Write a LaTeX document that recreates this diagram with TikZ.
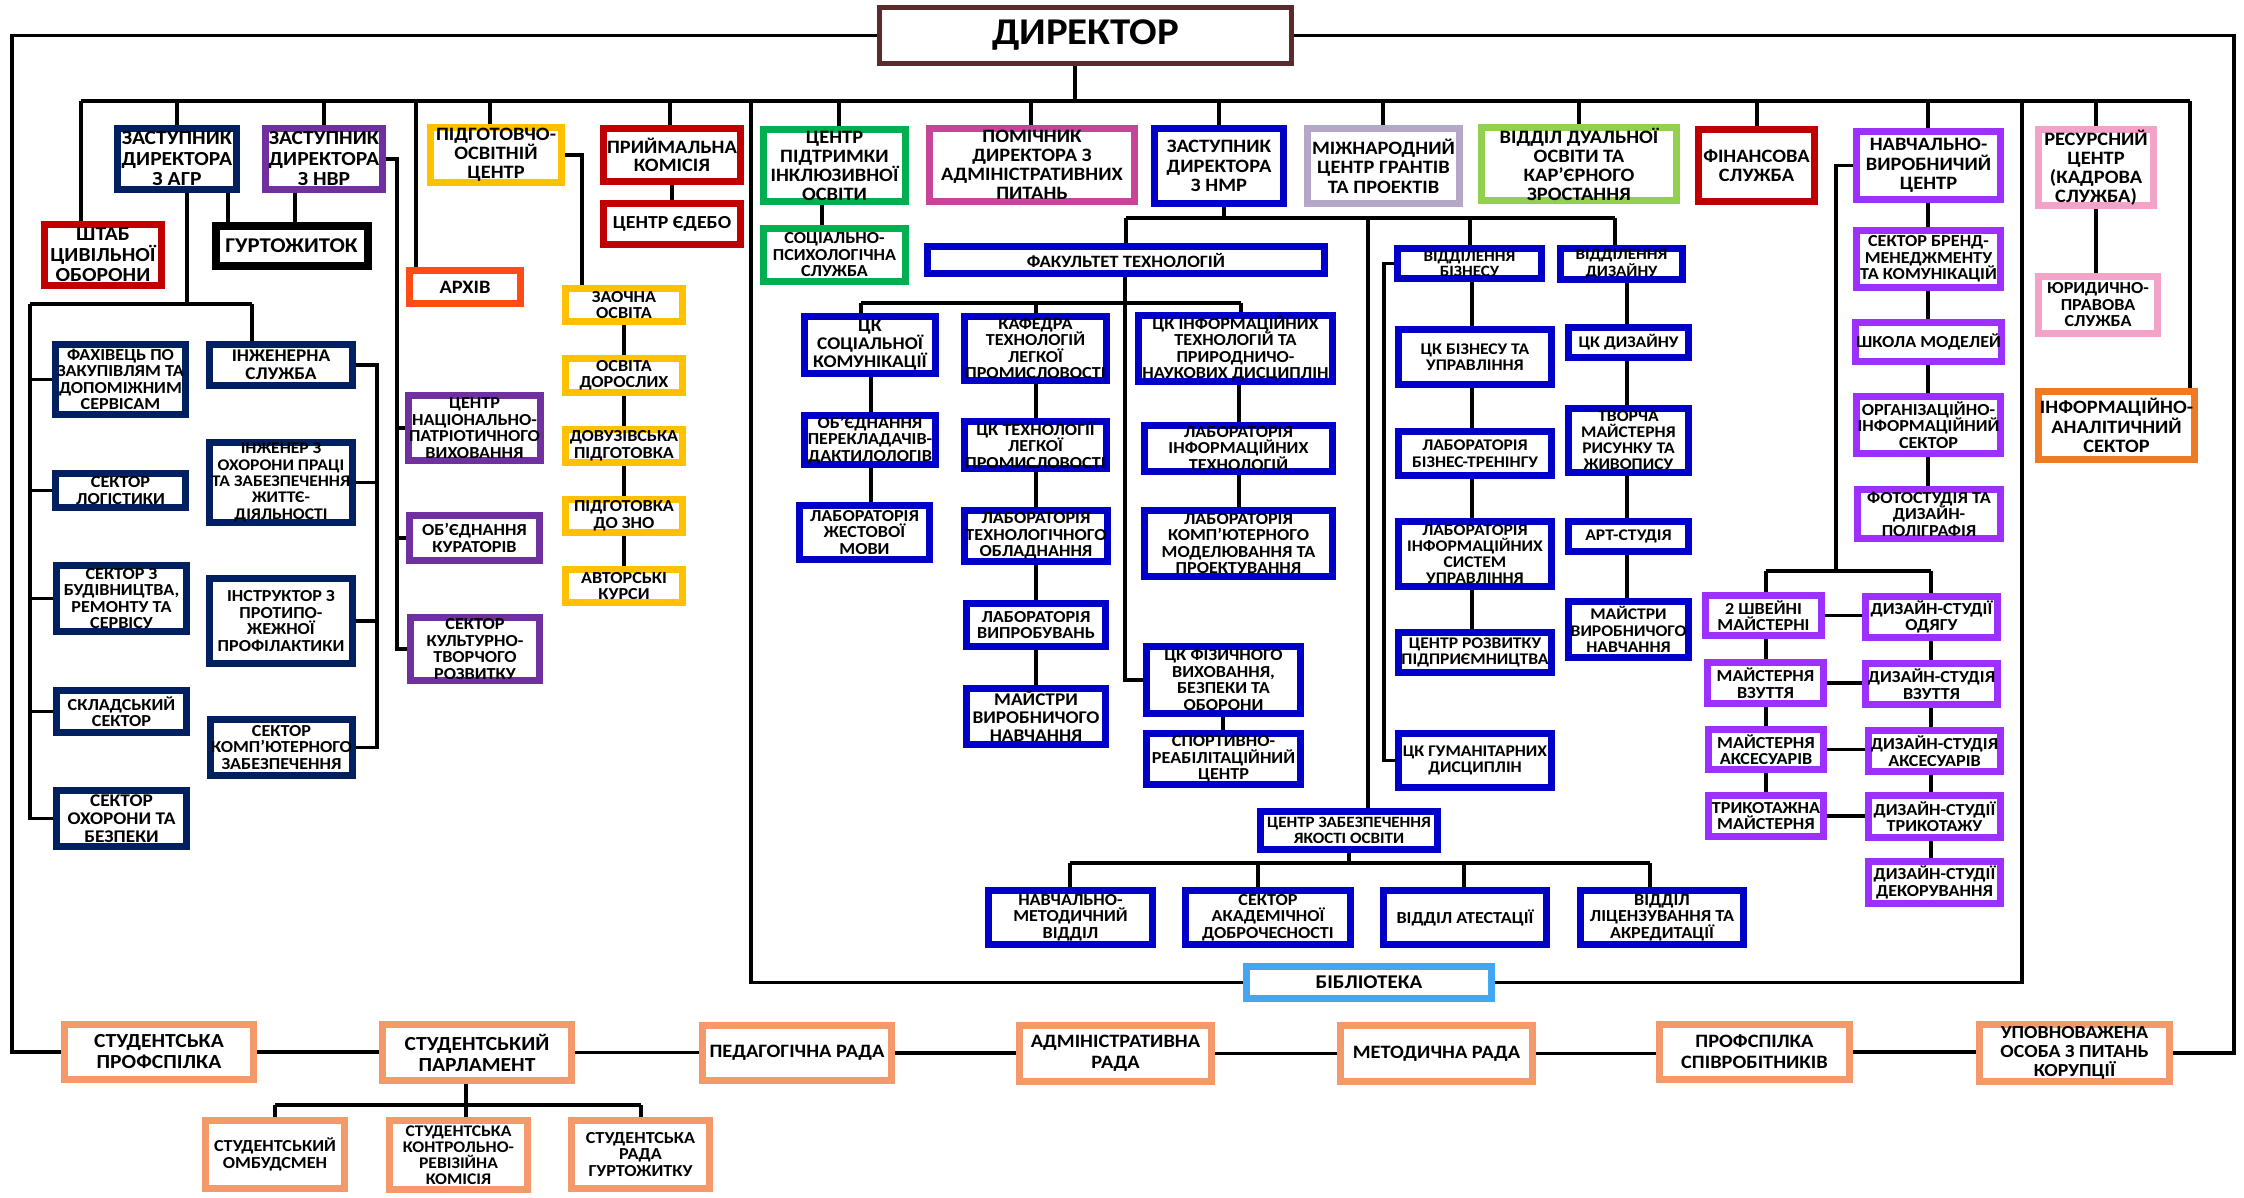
\documentclass[tikz,border=0pt]{standalone}
\usepackage{fontspec}
\setmainfont{Carlito}[FakeStretch=1.08]
\usetikzlibrary{calc}
\pgfdeclarelayer{bg}
\pgfsetlayers{bg,main}
\definecolor{cnavy}{HTML}{002060}
\definecolor{cpurp}{HTML}{7030A0}
\definecolor{cred}{HTML}{C00000}
\definecolor{cgold}{HTML}{FFC000}
\definecolor{carch}{HTML}{FF4B14}
\definecolor{cgreen}{HTML}{00B050}
\definecolor{cmag}{HTML}{C8449A}
\definecolor{cblue}{HTML}{0000C8}
\definecolor{clav}{HTML}{B4A7C8}
\definecolor{clgreen}{HTML}{92D050}
\definecolor{cviol}{HTML}{9B30FF}
\definecolor{cpink}{HTML}{F4A3C8}
\definecolor{corange}{HTML}{F07A24}
\definecolor{clblue}{HTML}{43A6F0}
\definecolor{csalmon}{HTML}{F49A6A}
\definecolor{cbrown}{HTML}{5B2A2A}
\newcommand{\obox}[8]{\node[box,draw=#6,#7,minimum width={#4-#2-7},minimum height={#5-#3-7}] (#1) at ({(#2+#4)/2},{(#3+#5)/2}) {#8};}
\begin{document}
\begin{tikzpicture}[x=1pt,y=-1pt,
  fz/.style 2 args={font=\bfseries\fontsize{\fpeval{#1*1.05}}{#2}\selectfont},
  box/.style={draw,line width=7pt,fill=white,align=center,inner sep=0.5pt,fz={16}{16.5}},
  conn/.style={line width=3.5pt}]
\useasboundingbox (0,0) rectangle (2244,1197);
% ---------- top level ----------
\obox{dir}{876}{4}{1295}{67}{cbrown}{line width=5pt,fz={36}{38}}{ДИРЕКТОР}
\obox{agr}{114}{125}{240}{193}{cnavy}{fz={19}{20.5}}{ЗАСТУПНИК\\ДИРЕКТОРА\\З АГР}
\obox{nvr}{262}{125}{386}{193}{cpurp}{fz={19}{20.5}}{ЗАСТУПНИК\\ДИРЕКТОРА\\З НВР}
\obox{shtab}{41}{221}{165}{289}{cred}{fz={19}{20.5}}{ШТАБ\\ЦИВІЛЬНОЇ\\ОБОРОНИ}
\obox{gurt}{212}{222}{371}{269}{black}{line width=8pt,fz={20}{21}}{ГУРТОЖИТОК}
\obox{pidg}{427}{125}{565}{185}{cgold}{fz={18}{19}}{ПІДГОТОВЧО-\\ОСВІТНІЙ\\ЦЕНТР}
\obox{pryim}{600}{125}{744}{185}{cred}{fz={18}{18.5}}{ПРИЙМАЛЬНА\\КОМІСІЯ}
\obox{edebo}{600}{200}{744}{248}{cred}{fz={17.5}{18}}{ЦЕНТР ЄДЕБО}
\obox{arkhiv}{406}{267}{524}{307}{carch}{fz={18}{18}}{АРХІВ}
% AGR children
\obox{fakh}{52}{341}{189}{418}{cnavy}{}{ФАХІВЕЦЬ ПО\\ЗАКУПІВЛЯМ ТА\\ДОПОМІЖНИМ\\СЕРВІСАМ}
\obox{logist}{52}{470}{189}{511}{cnavy}{}{СЕКТОР\\ЛОГІСТИКИ}
\obox{budiv}{53}{562}{190}{635}{cnavy}{}{СЕКТОР З\\БУДІВНИЦТВА,\\РЕМОНТУ ТА\\СЕРВІСУ}
\obox{sklad}{53}{687}{190}{736}{cnavy}{}{СКЛАДСЬКИЙ\\СЕКТОР}
\obox{okhor}{53}{787}{190}{850}{cnavy}{fz={17}{18}}{СЕКТОР\\ОХОРОНИ ТА\\БЕЗПЕКИ}
\obox{inzh}{206}{341}{356}{389}{cnavy}{fz={17}{18}}{ІНЖЕНЕРНА\\СЛУЖБА}
\obox{inzhop}{206}{439}{356}{526}{cnavy}{fz={15.5}{16.3}}{ІНЖЕНЕР З\\ОХОРОНИ ПРАЦІ\\ТА ЗАБЕЗПЕЧЕННЯ\\ЖИТТЄ-\\ДІЯЛЬНОСТІ}
\obox{instr}{206}{575}{356}{667}{cnavy}{}{ІНСТРУКТОР З\\ПРОТИПО-\\ЖЕЖНОЇ\\ПРОФІЛАКТИКИ}
\obox{komp}{207}{716}{356}{779}{cnavy}{}{СЕКТОР\\КОМП’ЮТЕРНОГО\\ЗАБЕЗПЕЧЕННЯ}
% NVR children
\obox{natspatr}{406}{392}{543}{464}{cpurp}{}{ЦЕНТР\\НАЦІОНАЛЬНО-\\ПАТРІОТИЧНОГО\\ВИХОВАННЯ}
\obox{kurat}{406}{512}{543}{564}{cpurp}{}{ОБ’ЄДНАННЯ\\КУРАТОРІВ}
\obox{kult}{407}{614}{543}{684}{cpurp}{}{СЕКТОР\\КУЛЬТУРНО-\\ТВОРЧОГО\\РОЗВИТКУ}
% gold column
\obox{zaoch}{562}{285}{686}{325}{cgold}{}{ЗАОЧНА\\ОСВІТА}
\obox{dorosl}{562}{355}{686}{396}{cgold}{}{ОСВІТА\\ДОРОСЛИХ}
\obox{dovuz}{562}{426}{686}{466}{cgold}{}{ДОВУЗІВСЬКА\\ПІДГОТОВКА}
\obox{zno}{562}{496}{686}{536}{cgold}{}{ПІДГОТОВКА\\ДО ЗНО}
\obox{avtor}{562}{566}{686}{606}{cgold}{}{АВТОРСЬКІ\\КУРСИ}
% middle top row
\obox{inkl}{760}{126}{909}{205}{cgreen}{fz={18}{19}}{ЦЕНТР\\ПІДТРИМКИ\\ІНКЛЮЗИВНОЇ\\ОСВІТИ}
\obox{sotsps}{760}{225}{909}{285}{cgreen}{}{СОЦІАЛЬНО-\\ПСИХОЛОГІЧНА\\СЛУЖБА}
\obox{pomich}{926}{125}{1138}{205}{cmag}{fz={18}{19}}{ПОМІЧНИК\\ДИРЕКТОРА З\\АДМІНІСТРАТИВНИХ\\ПИТАНЬ}
\obox{nmr}{1151}{125}{1287}{207}{cblue}{fz={18}{19.5}}{ЗАСТУПНИК\\ДИРЕКТОРА\\З НМР}
\obox{mizhn}{1304}{125}{1463}{207}{clav}{fz={18}{19.5}}{МІЖНАРОДНИЙ\\ЦЕНТР ГРАНТІВ\\ТА ПРОЕКТІВ}
\obox{dual}{1478}{124}{1680}{204}{clgreen}{fz={18}{19}}{ВІДДІЛ ДУАЛЬНОЇ\\ОСВІТИ ТА\\КАР’ЄРНОГО\\ЗРОСТАННЯ}
\obox{fin}{1695}{126}{1818}{205}{cred}{fz={18}{19.5}}{ФІНАНСОВА\\СЛУЖБА}
\obox{nvc}{1853}{128}{2004}{203}{cviol}{fz={18}{19.5}}{НАВЧАЛЬНО-\\ВИРОБНИЧИЙ\\ЦЕНТР}
\obox{resurs}{2035}{127}{2157}{208}{cpink}{fz={18}{19}}{РЕСУРСНИЙ\\ЦЕНТР\\(КАДРОВА\\СЛУЖБА)}
\obox{yuryd}{2035}{273}{2161}{337}{cpink}{}{ЮРИДИЧНО-\\ПРАВОВА\\СЛУЖБА}
\obox{infanal}{2035}{388}{2198}{463}{corange}{fz={18}{19.5}}{ІНФОРМАЦІЙНО-\\АНАЛІТИЧНИЙ\\СЕКТОР}
% faculty
\obox{fakultet}{924}{243}{1328}{277}{cblue}{fz={16.5}{17}}{ФАКУЛЬТЕТ ТЕХНОЛОГІЙ}
\obox{cksots}{801}{313}{939}{377}{cblue}{fz={17}{18}}{ЦК\\СОЦІАЛЬНОЇ\\КОМУНІКАЦІЇ}
\obox{kafedra}{962}{313}{1109}{384}{cblue}{}{КАФЕДРА\\ТЕХНОЛОГІЙ\\ЛЕГКОЇ\\ПРОМИСЛОВОСТІ}
\obox{ckinf}{1135}{313}{1336}{384}{cblue}{}{ЦК ІНФОРМАЦІЙНИХ\\ТЕХНОЛОГІЙ ТА\\ПРИРОДНИЧО-\\НАУКОВИХ ДИСЦИПЛІН}
\obox{perekl}{801}{413}{939}{467}{cblue}{}{ОБ’ЄДНАННЯ\\ПЕРЕКЛАДАЧІВ-\\ДАКТИЛОЛОГІВ}
\obox{cktlp}{962}{418}{1109}{472}{cblue}{}{ЦК ТЕХНОЛОГІЇ\\ЛЕГКОЇ\\ПРОМИСЛОВОСТІ}
\obox{labinf}{1141}{422}{1336}{475}{cblue}{}{ЛАБОРАТОРІЯ\\ІНФОРМАЦІЙНИХ\\ТЕХНОЛОГІЙ}
\obox{labzhest}{796}{502}{933}{563}{cblue}{}{ЛАБОРАТОРІЯ\\ЖЕСТОВОЇ\\МОВИ}
\obox{labtekh}{963}{507}{1109}{565}{cblue}{}{ЛАБОРАТОРІЯ\\ТЕХНОЛОГІЧНОГО\\ОБЛАДНАННЯ}
\obox{labkomp}{1141}{507}{1336}{580}{cblue}{}{ЛАБОРАТОРІЯ\\КОМП’ЮТЕРНОГО\\МОДЕЛЮВАННЯ ТА\\ПРОЕКТУВАННЯ}
\obox{labvypr}{963}{600}{1109}{650}{cblue}{}{ЛАБОРАТОРІЯ\\ВИПРОБУВАНЬ}
\obox{maystry1}{963}{685}{1109}{748}{cblue}{fz={17}{18}}{МАЙСТРИ\\ВИРОБНИЧОГО\\НАВЧАННЯ}
\obox{ckfiz}{1143}{643}{1304}{717}{cblue}{}{ЦК ФІЗИЧНОГО\\ВИХОВАННЯ,\\БЕЗПЕКИ ТА\\ОБОРОНИ}
\obox{sport}{1143}{730}{1304}{788}{cblue}{}{СПОРТИВНО-\\РЕАБІЛІТАЦІЙНИЙ\\ЦЕНТР}
% quality
\obox{yakist}{1257}{808}{1441}{853}{cblue}{fz={15}{16}}{ЦЕНТР ЗАБЕЗПЕЧЕННЯ\\ЯКОСТІ ОСВІТИ}
\obox{nmv}{985}{887}{1156}{948}{cblue}{}{НАВЧАЛЬНО-\\МЕТОДИЧНИЙ\\ВІДДІЛ}
\obox{akad}{1182}{887}{1354}{948}{cblue}{}{СЕКТОР\\АКАДЕМІЧНОЇ\\ДОБРОЧЕСНОСТІ}
\obox{atest}{1380}{887}{1550}{948}{cblue}{}{ВІДДІЛ АТЕСТАЦІЇ}
\obox{lits}{1577}{887}{1747}{948}{cblue}{}{ВІДДІЛ\\ЛІЦЕНЗУВАННЯ ТА\\АКРЕДИТАЦІЇ}
\obox{bibl}{1243}{963}{1495}{1002}{clblue}{fz={18.5}{19}}{БІБЛІОТЕКА}
% business / design
\obox{vidbiz}{1394}{245}{1545}{282}{cblue}{fz={15}{15}}{ВІДДІЛЕННЯ\\БІЗНЕСУ}
\obox{viddyz}{1557}{245}{1686}{283}{cblue}{fz={15}{15}}{ВІДДІЛЕННЯ\\ДИЗАЙНУ}
\obox{ckbiz}{1395}{326}{1555}{388}{cblue}{fz={15.5}{16.5}}{ЦК БІЗНЕСУ ТА\\УПРАВЛІННЯ}
\obox{labbiz}{1395}{428}{1555}{479}{cblue}{fz={15.5}{16.5}}{ЛАБОРАТОРІЯ\\БІЗНЕС-ТРЕНІНГУ}
\obox{labis}{1395}{518}{1555}{590}{cblue}{fz={15.5}{16}}{ЛАБОРАТОРІЯ\\ІНФОРМАЦІЙНИХ\\СИСТЕМ\\УПРАВЛІННЯ}
\obox{rozv}{1395}{629}{1555}{676}{cblue}{fz={15.5}{16.5}}{ЦЕНТР РОЗВИТКУ\\ПІДПРИЄМНИЦТВА}
\obox{ckhum}{1395}{730}{1555}{791}{cblue}{fz={15.5}{16.5}}{ЦК ГУМАНІТАРНИХ\\ДИСЦИПЛІН}
\obox{ckdyz}{1565}{324}{1692}{361}{cblue}{fz={15.5}{16.5}}{ЦК ДИЗАЙНУ}
\obox{tvorcha}{1565}{405}{1692}{476}{cblue}{fz={15.5}{16}}{ТВОРЧА\\МАЙСТЕРНЯ\\РИСУНКУ ТА\\ЖИВОПИСУ}
\obox{art}{1565}{518}{1692}{555}{cblue}{fz={15.5}{16.5}}{АРТ-СТУДІЯ}
\obox{maystry2}{1565}{598}{1692}{661}{cblue}{fz={15.5}{16.5}}{МАЙСТРИ\\ВИРОБНИЧОГО\\НАВЧАННЯ}
% NVC
\obox{brand}{1853}{227}{2004}{291}{cviol}{}{СЕКТОР БРЕНД-\\МЕНЕДЖМЕНТУ\\ТА КОМУНІКАЦІЙ}
\obox{shkola}{1853}{319}{2004}{365}{cviol}{}{ШКОЛА МОДЕЛЕЙ}
\obox{orginf}{1853}{393}{2004}{457}{cviol}{}{ОРГАНІЗАЦІЙНО-\\ІНФОРМАЦІЙНИЙ\\СЕКТОР}
\obox{foto}{1854}{486}{2004}{542}{cviol}{}{ФОТОСТУДІЯ ТА\\ДИЗАЙН-\\ПОЛІГРАФІЯ}
\obox{shvein}{1702}{592}{1825}{639}{cviol}{}{2 ШВЕЙНІ\\МАЙСТЕРНІ}
\obox{dsodyag}{1862}{593}{2001}{641}{cviol}{}{ДИЗАЙН-СТУДІЇ\\ОДЯГУ}
\obox{mvzut}{1704}{659}{1827}{707}{cviol}{}{МАЙСТЕРНЯ\\ВЗУТТЯ}
\obox{dsvzut}{1862}{660}{2001}{708}{cviol}{}{ДИЗАЙН-СТУДІЯ\\ВЗУТТЯ}
\obox{maks}{1705}{726}{1827}{773}{cviol}{}{МАЙСТЕРНЯ\\АКСЕСУАРІВ}
\obox{dsaks}{1865}{727}{2004}{775}{cviol}{}{ДИЗАЙН-СТУДІЯ\\АКСЕСУАРІВ}
\obox{tryk}{1705}{792}{1827}{840}{cviol}{}{ТРИКОТАЖНА\\МАЙСТЕРНЯ}
\obox{dstryk}{1865}{792}{2004}{841}{cviol}{}{ДИЗАЙН-СТУДІЇ\\ТРИКОТАЖУ}
\obox{dsdek}{1865}{858}{2004}{907}{cviol}{}{ДИЗАЙН-СТУДІЇ\\ДЕКОРУВАННЯ}
% bottom row
\obox{stprof}{61}{1021}{257}{1083}{csalmon}{fz={19}{21}}{СТУДЕНТСЬКА\\ПРОФСПІЛКА}
\obox{stparl}{379}{1021}{575}{1084}{csalmon}{fz={19}{21}}{СТУДЕНТСЬКИЙ\\ПАРЛАМЕНТ}
\obox{pedrada}{699}{1022}{895}{1084}{csalmon}{fz={18}{20}}{ПЕДАГОГІЧНА РАДА}
\obox{adminrada}{1016}{1022}{1215}{1085}{csalmon}{fz={18}{21}}{АДМІНІСТРАТИВНА\\РАДА}
\obox{metrada}{1337}{1022}{1536}{1085}{csalmon}{fz={18}{20}}{МЕТОДИЧНА РАДА}
\obox{profsp}{1656}{1021}{1853}{1083}{csalmon}{fz={18}{21}}{ПРОФСПІЛКА\\СПІВРОБІТНИКІВ}
\obox{upovn}{1976}{1021}{2173}{1085}{csalmon}{fz={17.5}{19}}{УПОВНОВАЖЕНА\\ОСОБА З ПИТАНЬ\\КОРУПЦІЇ}
\obox{ombud}{202}{1117}{348}{1192}{csalmon}{}{СТУДЕНТСЬКИЙ\\ОМБУДСМЕН}
\obox{krk}{386}{1117}{531}{1193}{csalmon}{fz={15.5}{16}}{СТУДЕНТСЬКА\\КОНТРОЛЬНО-\\РЕВІЗІЙНА\\КОМІСІЯ}
\obox{radagurt}{568}{1117}{713}{1192}{csalmon}{}{СТУДЕНТСЬКА\\РАДА\\ГУРТОЖИТКУ}
% ---------- connectors ----------
\begin{pgfonlayer}{bg}
\fill[white] (0,0) rectangle (2244,1197);
\draw[conn] (dir.west) -- (dir.west -| 12,0) -- (stprof.west -| 12,0) -- (stprof.west);
\draw[conn] (dir.east) -- (dir.east -| 2234,0) -- (upovn.east -| 2234,0) -- (upovn.east);
\coordinate (bL) at (81,101);
\coordinate (bR) at (2190,101);
\draw[conn] (dir.south -| 1075,0) -- (1075,101);
\draw[conn] (bL) -- (bR);
\draw[conn] (bL) -- (shtab.north -| bL);
\foreach \n/\x in {agr/177,nvr/324,arkhiv/416,pidg/490,pryim/670,inkl/839,pomich/1031,nmr/1219,mizhn/1383,dual/1579,fin/1757,nvc/1928,resurs/2096,infanal/2190}
  \draw[conn] (\x,101) -- (\n.north -| \x,0);
\draw[conn] (751,101) |- (bibl.west);
\draw[conn] (2022,101) |- (bibl.east);
% AGR
\draw[conn] (agr.south -| 187,0) -- (187,304);
\draw[conn] (30,304) -- (252,304);
\draw[conn] (252,304) -- (inzh.north -| 252,0);
\draw[conn] (30,304) |- (okhor.west);
\foreach \n in {fakh,logist,budiv,sklad} \draw[conn] (\n.west) -- (\n.west -| 30,0);
\draw[conn] (agr.south -| 228,0) -- (gurt.north -| 228,0);
\draw[conn] (nvr.south -| 295,0) -- (gurt.north -| 295,0);
\draw[conn] (inzh.east) -- (inzh.east -| 377,0) -- (komp.east -| 377,0) -- (komp.east);
\foreach \n in {inzhop,instr} \draw[conn] (\n.east) -- (\n.east -| 377,0);
% NVR
\draw[conn] (nvr.east) -- (nvr.east -| 397,0) -- (kult.west -| 397,0) -- (kult.west);
\foreach \n in {natspatr,kurat} \draw[conn] (\n.west) -- (\n.west -| 397,0);
% PIDG
\draw[conn] (pidg.east) -- (pidg.east -| 582,0) -- (zaoch.north -| 582,0);
\draw[conn] (zaoch.south -| 624,0) -- (avtor.north -| 624,0);
\draw[conn] (pryim.south) -- (edebo.north);
\draw[conn] (inkl.south -| 822,0) -- (sotsps.north -| 822,0);
% NMR
\draw[conn] (nmr.south -| 1224,0) -- (1224,218);
\draw[conn] (1126,218) -- (1615,218);
\draw[conn] (1126,218) -- (fakultet.north -| 1126,0);
\draw[conn] (1368,218) -- (yakist.north -| 1368,0);
\draw[conn] (1470,218) -- (vidbiz.north -| 1470,0);
\draw[conn] (1615,218) -- (viddyz.north -| 1615,0);
\draw[conn] (fakultet.south -| 1125,0) |- (ckfiz.west);
\draw[conn] (861,303) -- (1241,303);
\foreach \n/\x in {cksots/861,kafedra/1036,ckinf/1241} \draw[conn] (\x,303) -- (\n.north -| \x,0);
\draw[conn] (cksots.south -| 871,0) -- (labzhest.north -| 871,0);
\draw[conn] (kafedra.south -| 1036,0) -- (maystry1.north -| 1036,0);
\draw[conn] (ckinf.south -| 1239,0) -- (labkomp.north -| 1239,0);
\draw[conn] (ckfiz.south -| 1223,0) -- (sport.north -| 1223,0);
\draw[conn] (yakist.south -| 1349,0) -- (1349,863);
\draw[conn] (1070,863) -- (1650,863);
\foreach \n/\x in {nmv/1070,akad/1258,atest/1464,lits/1650} \draw[conn] (\x,863) -- (\n.north -| \x,0);
\draw[conn] (vidbiz.west) -- (vidbiz.west -| 1384,0) -- (ckhum.west -| 1384,0) -- (ckhum.west);
\draw[conn] (vidbiz.south -| 1472,0) -- (rozv.north -| 1472,0);
\draw[conn] (viddyz.south -| 1627,0) -- (maystry2.north -| 1627,0);
% NVC
\draw[conn] (nvc.south -| 1928,0) -- (foto.north -| 1928,0);
\draw[conn] (nvc.west) -- (nvc.west -| 1836,0) -- (1836,571);
\draw[conn] (1766,571) -- (1931,571);
\draw[conn] (1766,571) -- (tryk.north -| 1766,0);
\draw[conn] (1931,571) -- (dsdek.north -| 1931,0);
\foreach \a/\b in {shvein/dsodyag,mvzut/dsvzut,maks/dsaks,tryk/dstryk} \draw[conn] (\a.east) -- (\a.east -| \b.west);
\draw[conn] (resurs.south -| 2096,0) -- (yuryd.north -| 2096,0);
% bottom
\foreach \a/\b in {stprof/stparl,stparl/pedrada,pedrada/adminrada,adminrada/metrada,metrada/profsp,profsp/upovn} \draw[conn] (\a.east) -- (\a.east -| \b.west);
\draw[conn] (stparl.south -| 466,0) -- (466,1105);
\draw[conn] (275,1105) -- (641,1105);
\foreach \n/\x in {ombud/275,krk/466,radagurt/641} \draw[conn] (\x,1105) -- (\n.north -| \x,0);
\end{pgfonlayer}
\end{tikzpicture}
\end{document}
